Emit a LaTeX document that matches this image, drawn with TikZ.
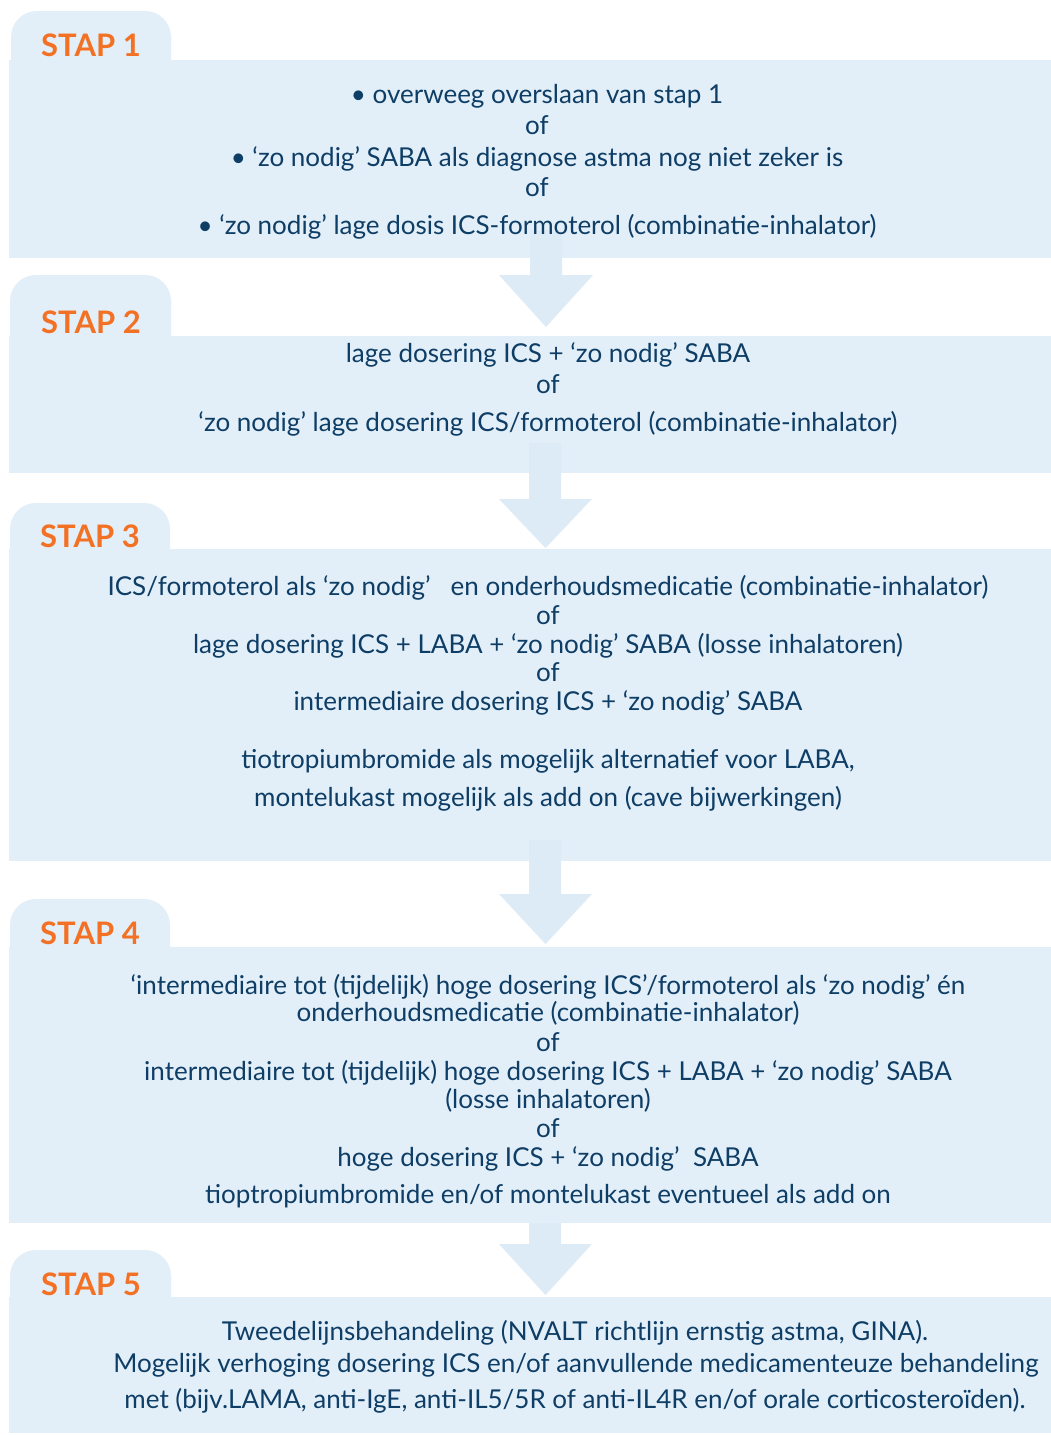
\documentclass[tikz,border=0pt]{standalone}
\usepackage{fontspec}
\setmainfont{Lato}
\begin{document}
\begin{tikzpicture}[x=1pt,y=-1pt,
  boxc/.style={fill=boxfill,draw=none},
  arrowc/.style={fill=arrowfill,draw=none},
  stap/.style={anchor=base west,inner sep=0pt,text=stapor,font=\fontsize{31}{34}\selectfont\bfseries},
  txt/.style={anchor=base,inner sep=0pt,text=txtblue,font=\fontsize{26}{30}\selectfont},
]
\definecolor{boxfill}{HTML}{E2EFF8}
\definecolor{arrowfill}{HTML}{DDEBF6}
\definecolor{stapor}{HTML}{F37124}
\definecolor{txtblue}{HTML}{0E3D66}
\useasboundingbox (0,0) rectangle (1051,1435);
\fill[white] (0,0) rectangle (1051,1435);

% tabs
\fill[boxc,rounded corners=26pt] (11,11) rectangle (171,110);
\fill[boxc,rounded corners=26pt] (10,275) rectangle (171,380);
\fill[boxc,rounded corners=26pt] (10,503) rectangle (170,600);
\fill[boxc,rounded corners=26pt] (10,899) rectangle (170,1000);
\fill[boxc,rounded corners=26pt] (10,1250) rectangle (171,1350);

% main boxes
\node[boxc,anchor=north west,minimum width=1042pt,minimum height=198pt,inner sep=0pt] (b1) at (9,60) {};
\node[boxc,anchor=north west,minimum width=1042pt,minimum height=137pt,inner sep=0pt] (b2) at (9,336) {};
\node[boxc,anchor=north west,minimum width=1042pt,minimum height=312pt,inner sep=0pt] (b3) at (9,549) {};
\node[boxc,anchor=north west,minimum width=1042pt,minimum height=276pt,inner sep=0pt] (b4) at (9,947) {};
\node[boxc,anchor=north west,minimum width=1042pt,minimum height=136pt,inner sep=0pt] (b5) at (9,1297) {};

% arrows
\fill[arrowc] (530,230) -- (562,230) -- (562,275) -- (593,275) -- (546,327) -- (499,275) -- (530,275) -- cycle;
\fill[arrowc] (529,443) -- (561,443) -- (561,499) -- (592,499) -- (545.5,548) -- (499,499) -- (529,499) -- cycle;
\fill[arrowc] (529,840) -- (561,840) -- (561,894) -- (592,894) -- (545.5,944) -- (499,894) -- (529,894) -- cycle;
\fill[arrowc] (529,1223) -- (561,1223) -- (561,1244) -- (592,1244) -- (545.5,1295) -- (499,1244) -- (529,1244) -- cycle;

% labels
\node[stap] (s1) at (41,56) {STAP 1};
\node[stap] (s2) at (41,333) {STAP 2};
\node[stap] (s3) at (40,547) {STAP 3};
\node[stap] (s4) at (40,944) {STAP 4};
\node[stap] (s5) at (41,1295) {STAP 5};

% box 1
\node[txt] (t11) at (537,103) {• overweeg overslaan van stap 1};
\node[txt] (t12) at (537,134) {of};
\node[txt] (t13) at (537,166) {• ‘zo nodig’ SABA als diagnose astma nog niet zeker is};
\node[txt] (t14) at (537,196) {of};
\node[txt] (t15) at (537,234) {• ‘zo nodig’ lage dosis ICS-formoterol (combinatie-inhalator)};

% box 2
\node[txt] (t21) at (548,362) {lage dosering ICS + ‘zo nodig’ SABA};
\node[txt] (t22) at (548,393) {of};
\node[txt] (t23) at (548,431) {‘zo nodig’ lage dosering ICS/formoterol (combinatie-inhalator)};

% box 3
\node[txt] (t31) at (548,595) {ICS/formoterol als ‘zo nodig’\ \ \ en onderhoudsmedicatie (combinatie-inhalator)};
\node[txt] (t32) at (548,624) {of};
\node[txt] (t33) at (548,653) {lage dosering ICS + LABA + ‘zo nodig’ SABA (losse inhalatoren)};
\node[txt] (t34) at (548,681) {of};
\node[txt] (t35) at (548,710) {intermediaire dosering ICS + ‘zo nodig’ SABA};
\node[txt] (t36) at (548,768) {tiotropiumbromide als mogelijk alternatief voor LABA,};
\node[txt] (t37) at (548,806) {montelukast mogelijk als add on (cave bijwerkingen)};

% box 4
\node[txt] (t41) at (548,994) {‘intermediaire tot (tijdelijk) hoge dosering ICS’/formoterol als ‘zo nodig’ én};
\node[txt] (t42) at (548,1021) {onderhoudsmedicatie (combinatie-inhalator)};
\node[txt] (t43) at (548,1051) {of};
\node[txt] (t44) at (548,1080) {intermediaire tot (tijdelijk) hoge dosering ICS + LABA + ‘zo nodig’ SABA};
\node[txt] (t45) at (548,1108) {(losse inhalatoren)};
\node[txt] (t46) at (548,1137) {of};
\node[txt] (t47) at (548,1166) {hoge dosering ICS + ‘zo nodig’\ \ SABA};
\node[txt] (t48) at (548,1203) {tioptropiumbromide en/of montelukast eventueel als add on};

% box 5
\node[txt] (t51) at (575,1340) {Tweedelijnsbehandeling (NVALT richtlijn ernstig astma, GINA).};
\node[txt] (t52) at (576,1372) {Mogelijk verhoging dosering ICS en/of aanvullende medicamenteuze behandeling};
\node[txt] (t53) at (575,1408) {met (bijv.LAMA, anti-IgE, anti-IL5/5R of anti-IL4R en/of orale corticosteroïden).};
\end{tikzpicture}
\end{document}
